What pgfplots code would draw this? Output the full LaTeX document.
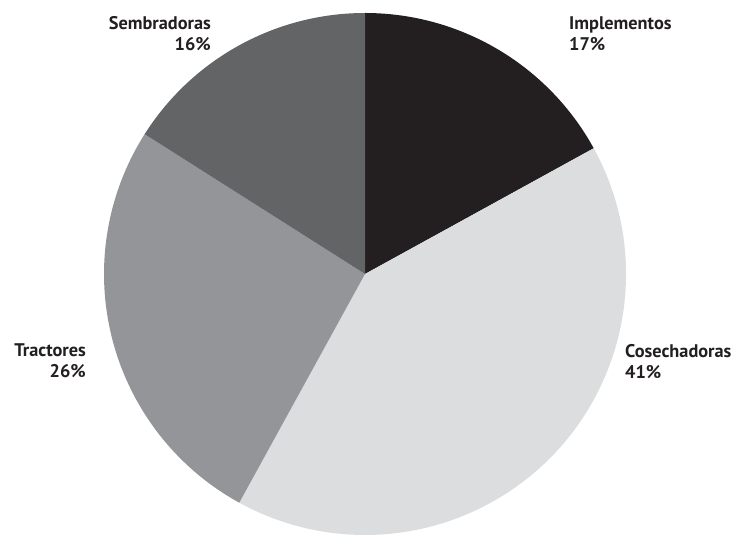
\documentclass[border=0pt]{standalone}
\usepackage{fontspec}
\setmainfont{PT Sans}
\usepackage{pgfplots}
\usepackage{pgfplotstable}
\pgfplotsset{compat=1.18}
\definecolor{cImp}{HTML}{231F20}
\definecolor{cCos}{HTML}{DCDDDF}
\definecolor{cTra}{HTML}{939598}
\definecolor{cSem}{HTML}{636466}
\pgfplotstableread{
label pct
Implementos 17
Cosechadoras 41
Tractores 26
Sembradoras 16
}\piedata
\begin{document}
\begin{tikzpicture}
\pgfplotstablegetelem{0}{pct}\of\piedata \let\pA\pgfplotsretval
\pgfplotstablegetelem{1}{pct}\of\piedata \let\pB\pgfplotsretval
\pgfplotstablegetelem{2}{pct}\of\piedata \let\pC\pgfplotsretval
\pgfplotstablegetelem{3}{pct}\of\piedata \let\pD\pgfplotsretval
\pgfmathsetmacro\aO{90}
\pgfmathsetmacro\aA{\aO-\pA*3.6}
\pgfmathsetmacro\aB{\aA-\pB*3.6}
\pgfmathsetmacro\aC{\aB-\pC*3.6}
\pgfmathsetmacro\aD{\aC-\pD*3.6}
\begin{axis}[
  width=742pt, height=533pt, scale only axis,
  xmin=0, xmax=742, ymin=0, ymax=533,
  hide axis, clip=false,
]
\path (axis cs:0,0) rectangle (axis cs:742,533);
\fill[cImp] (axis cs:365,259) -- ++(\aO:261pt) arc[start angle=\aO, end angle=\aA, radius=261pt] -- cycle;
\fill[cCos] (axis cs:365,259) -- ++(\aA:261pt) arc[start angle=\aA, end angle=\aB, radius=261pt] -- cycle;
\fill[cTra] (axis cs:365,259) -- ++(\aB:261pt) arc[start angle=\aB, end angle=\aC, radius=261pt] -- cycle;
\fill[cSem] (axis cs:365,259) -- ++(\aC:261pt) arc[start angle=\aC, end angle=\aD, radius=261pt] -- cycle;
\begin{scope}[every node/.style={inner sep=0pt, font=\fontsize{18.3}{21}\selectfont\bfseries, text=cImp}]
\node[anchor=base west, align=left] at (axis cs:569,482) {Implementos\\17\%};
\node[anchor=base east, align=right] at (axis cs:211,482) {Sembradoras\\16\%};
\node[anchor=base east, align=right] at (axis cs:86,155) {Tractores\\26\%};
\node[anchor=base west, align=left] at (axis cs:625,154) {Cosechadoras\\41\%};
\end{scope}
\end{axis}
\end{tikzpicture}
\end{document}
